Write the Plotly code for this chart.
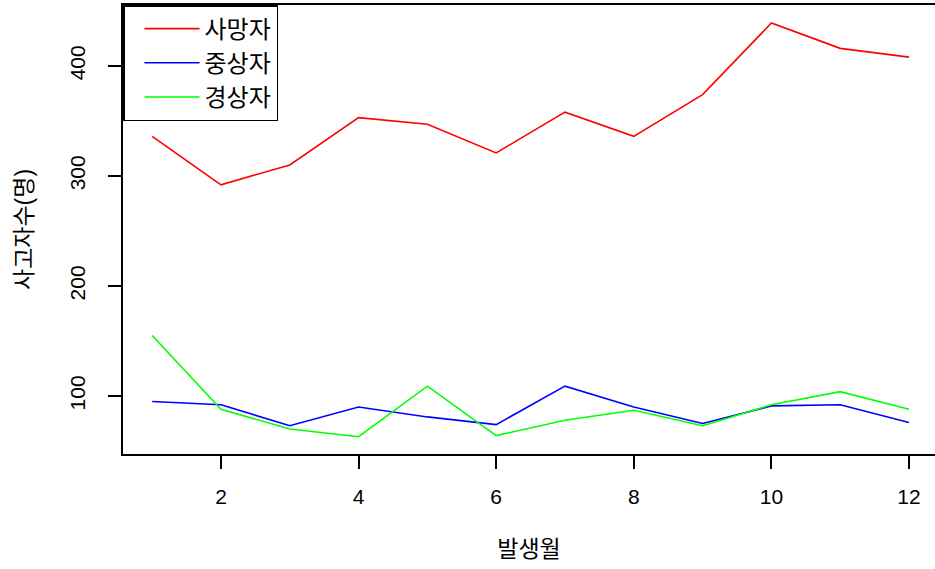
import plotly.graph_objects as go

months = list(range(1, 13))
deaths = [336, 292, 310, 353, 347, 321, 358, 336, 374, 439, 416, 408]
serious = [95, 92, 73, 90, 81, 74, 109, 90, 75, 91, 92, 76]
minor = [155, 88, 70, 63, 109, 64, 78, 87, 73, 92, 104, 88]
names = ["사망자", "중상자", "경상자"]
colors = ["#FF0000", "#0000FF", "#00FF00"]
x_ticks = [2, 4, 6, 8, 10, 12]
y_ticks = [100, 200, 300, 400]

FONT = "Liberation Sans, Noto Sans CJK KR, sans-serif"

fig = go.Figure()
for name, vals, col in zip(names, [deaths, serious, minor], colors):
    fig.add_trace(go.Scatter(x=months, y=vals, mode="lines", name=name,
                             line=dict(color=col, width=1.6)))

fig.update_layout(
    width=935, height=569,
    margin=dict(l=123, r=0, t=5, b=115),
    paper_bgcolor="white", plot_bgcolor="white",
    font=dict(family=FONT, size=21, color="black"),
    showlegend=True,
    legend=dict(x=0, y=1, xanchor="left", yanchor="top",
                bgcolor="white", bordercolor="black", borderwidth=1.5,
                font=dict(size=24, family=FONT),
                tracegroupgap=0, itemwidth=55, indentation=15),
    xaxis=dict(range=[0.576, 12.378], tickvals=x_ticks,
               showgrid=False, zeroline=False,
               showline=True, linecolor="black", linewidth=1.5, mirror=True,
               ticks="outside", ticklen=13, tickwidth=1.5, tickcolor="black",
               tickfont=dict(size=21), ticklabelstandoff=10,
               title=dict(text="발생월", font=dict(size=23), standoff=34)),
    yaxis=dict(range=[47.3, 455.4], tickvals=y_ticks,
               showgrid=False, zeroline=False,
               showline=True, linecolor="black", linewidth=1.5, mirror=False,
               ticks="outside", ticklen=13, tickwidth=1.5, tickcolor="black",
               tickangle=-90, tickfont=dict(size=21), ticklabelstandoff=15,
               title=dict(text="사고자수(명)", font=dict(size=23), standoff=27)),
)

fig.write_html("out.html", config={"displayModeBar": False},
               post_script="document.body.style.margin='0';")
